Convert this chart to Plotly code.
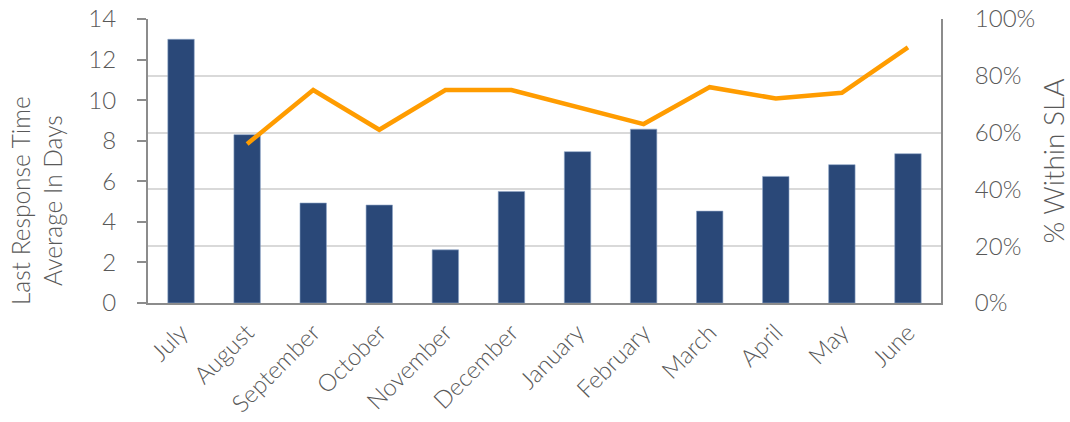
import plotly.graph_objects as go

months = ["July", "August", "September", "October", "November", "December",
          "January", "February", "March", "April", "May", "June"]
avg_days = [13.0, 8.3, 4.93, 4.83, 2.62, 5.5, 7.46, 8.57, 4.53, 6.24, 6.82, 7.36]
pct_sla = [None, 0.56, 0.75, 0.61, 0.75, 0.75, 0.69, 0.63, 0.76, 0.72, 0.74, 0.90]

left_ticks = [0, 2, 4, 6, 8, 10, 12, 14]
right_ticks = [0, 0.2, 0.4, 0.6, 0.8, 1.0]

left_title = "Last Response Time<br>Average In Days"
right_title = "% Within SLA"

FONT = "Lato, 'Open Sans', sans-serif"
GRAY = "#595959"
AXIS = "#8c8c8c"

fig = go.Figure()
fig.add_trace(go.Bar(
    x=months, y=avg_days, name="Last Response Time",
    marker=dict(color="#2A4878", line=dict(color="#8FA6C8", width=0.6)),
    yaxis="y",
))
fig.add_trace(go.Scatter(
    x=months, y=pct_sla, name="% Within SLA", mode="lines",
    line=dict(color="#FF9C00", width=4.5),
    yaxis="y2",
))

fig.update_layout(
    width=1070, height=422,
    margin=dict(l=148, r=129, t=19, b=119),
    paper_bgcolor="white", plot_bgcolor="white",
    showlegend=False,
    bargap=0.6,
    font=dict(family=FONT, color=GRAY, size=20, weight=300),
    xaxis=dict(
        type="category",
        tickangle=-45,
        automargin=False,
        tickfont=dict(size=24, family=FONT, color=GRAY, weight=300),
        ticklabelstandoff=4,
        showline=True, linecolor=AXIS, linewidth=2,
        showgrid=False, ticks="",
    ),
    yaxis=dict(
        range=[0, 14], tickvals=left_ticks,
        automargin=False,
        showgrid=False, zeroline=False,
        showline=True, linecolor=AXIS, linewidth=2,
        ticks="outside", ticklen=9, tickwidth=2, tickcolor=AXIS,
        ticklabelstandoff=16,
        tickfont=dict(size=24, family=FONT, color=GRAY, weight=300),
    ),
    yaxis2=dict(
        range=[0, 1], tickvals=right_ticks, tickformat=".0%",
        overlaying="y", side="right",
        automargin=False,
        showgrid=True, gridcolor="#d9d9d9", gridwidth=2,
        zeroline=False,
        showline=True, linecolor=AXIS, linewidth=2,
        ticks="", ticklabelstandoff=27,
        tickfont=dict(size=24, family=FONT, color=GRAY, weight=300),
        title=dict(text=right_title,
                   font=dict(size=28, family=FONT, color=GRAY, weight=300),
                   standoff=14),
    ),
    annotations=[dict(
        text=left_title, textangle=-90,
        xref="paper", yref="paper", x=-0.1412, y=0.359,
        xanchor="center", yanchor="middle", showarrow=False,
        font=dict(size=24.5, family=FONT, color=GRAY, weight=300),
    )],
)

fig.write_html("out.html", config={"displayModeBar": False},
               post_script="document.body.style.margin='0';")
